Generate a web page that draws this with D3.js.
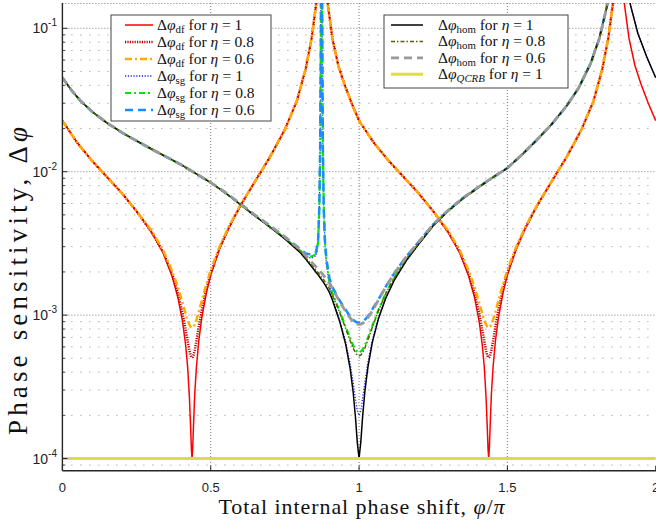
<!DOCTYPE html>
<html><head><meta charset="utf-8">
<script src="https://cdn.jsdelivr.net/npm/d3@7"></script>
<style>body{margin:0;background:#fff}svg{display:block}</style>
</head><body>
<svg id="chart" width="656" height="522"></svg>
<script>
// ---------------- DATA ----------------
const xTickValues = [0, 0.5, 1, 1.5, 2];
const xTickLabels = ["0", "0.5", "1", "1.5", "2"];
const yTickExponents = [-1, -2, -3, -4];

// phase grid for the difference-detection curves
const phiDf = [0,0.05,0.1,0.15,0.2,0.25,0.3,0.34,0.37,0.39,0.405,0.415,0.422,0.428,0.432,0.435,0.437,0.439,0.442,0.446,0.452,0.46,0.47,0.485,0.5,0.53,0.56,0.6,0.65,0.7,0.75,0.79,0.82,0.84,0.855,0.865,0.8745,0.884,0.895,0.91,0.93,0.95,0.975,
1,1.05,1.1,1.15,1.2,1.25,1.3,1.34,1.37,1.39,1.405,1.415,1.422,1.428,1.432,1.435,1.437,1.439,1.442,1.446,1.452,1.46,1.47,1.485,1.5,1.53,1.56,1.6,1.65,1.7,1.75,1.79,1.82,1.84,1.855,1.865,1.8745,1.884,1.895,1.91,1.93,1.95,1.975,2];

const dfEta1 = [0.0227,0.0159,0.0119,0.0092,0.0071,0.0053,0.0038,0.0027,0.00186,0.00131,0.0009,0.00063,0.00044,0.00027,0.00017,0.000115,0.0001,0.000115,0.00017,0.00028,0.00044,0.00067,0.00096,0.00142,0.0019,0.0029,0.004,0.0058,0.0086,0.0127,0.0197,0.031,0.052,0.085,0.145,0.3,null,0.3,0.145,0.085,0.055,0.041,0.030,
0.0227,0.0159,0.0119,0.0092,0.0071,0.0053,0.0038,0.0027,0.00186,0.00131,0.0009,0.00063,0.00044,0.00027,0.00017,0.000115,0.0001,0.000115,0.00017,0.00028,0.00044,0.00067,0.00096,0.00142,0.0019,0.0029,0.004,0.0058,0.0086,0.0127,0.0197,0.031,0.052,0.085,0.145,0.3,null,0.3,0.145,0.085,0.055,0.041,0.030,
0.0227];

const dfEta08 = [0.0227,0.0159,0.0119,0.0092,0.0071,0.0053,0.0038,0.00275,0.00193,0.0014,0.00103,0.0008,0.00066,0.000567,0.000526,0.000509,0.000506,0.000509,0.000526,0.000568,0.000665,0.00084,0.00109,0.00151,0.00196,0.00294,0.00404,0.0058,0.0086,0.0127,0.0197,0.031,0.052,0.085,0.145,0.3,null,0.3,0.145,0.085,0.055,0.041,0.030,
0.0227,0.0159,0.0119,0.0092,0.0071,0.0053,0.0038,0.00275,0.00193,0.0014,0.00103,0.0008,0.00066,0.000567,0.000526,0.000509,0.000506,0.000509,0.000526,0.000568,0.000665,0.00084,0.00109,0.00151,0.00196,0.00294,0.00404,0.0058,0.0086,0.0127,0.0197,0.031,0.052,0.085,0.145,0.3,null,null,null,null,null,null,null,
null];

const dfEta06 = [0.0227,0.0159,0.0119,0.0092,0.0071,0.0053,0.0039,0.00282,0.00203,0.00155,0.00122,0.00103,0.00092,0.00086,0.00083,0.00082,0.00082,0.00082,0.00083,0.00086,0.00093,0.00106,0.00126,0.00164,0.00206,0.00301,0.00409,0.00586,0.0086,0.0127,0.0197,0.031,0.052,0.085,0.145,0.3,null,0.3,0.145,0.085,0.055,0.041,0.030,
0.0227,0.0159,0.0119,0.0092,0.0071,0.0053,0.0039,0.00282,0.00203,0.00155,0.00122,0.00103,0.00092,0.00086,0.00083,0.00082,0.00082,0.00082,0.00083,0.00086,0.00093,0.00106,0.00126,0.00164,0.00206,0.00301,0.00409,0.00586,0.0086,0.0127,0.0197,0.031,0.052,0.085,0.145,0.3,null,null,null,null,null,null,null,
null];

// phase grid for single-mode and homodyne curves
const phiHom = [0,0.03,0.06,0.1,0.15,0.2,0.25,0.3,0.35,0.4,0.45,0.5,0.55,0.6,0.65,0.7,0.75,0.8,0.82,0.84,0.855,0.862,0.866,0.869,0.871,0.8718,0.8735,0.8752,0.876,0.878,0.881,0.885,0.89,0.9,0.91,0.935,0.955,0.97,0.98,0.988,0.994,1.0,1.006,1.012,1.02,1.03,1.045,1.065,1.09,1.12,1.16,1.2,1.25,1.3,1.35,1.4,1.45,1.5,1.55,1.6,1.65,1.7,1.74,1.78,1.81,1.835,1.855,1.865,1.875,1.886,1.896,1.915,1.94,1.97,2.0];

const sgEta1 = [0.0453,0.0371,0.0314,0.0262,0.0219,0.0188,0.0164,0.0144,0.0127,0.0112,0.0097,0.0084,0.0071,0.0059,0.0049,0.0041,0.0034,0.00278,0.00255,0.0025,0.0026,0.0032,0.0055,0.015,0.08,0.2,2,0.2,0.08,0.015,0.0055,0.0032,0.0023,0.0016,0.00132,0.000915,0.00065,0.000458,0.00034,0.000259,0.000216,0.0002,0.000217,0.000262,0.000346,0.000469,0.000671,0.000954,0.00132,0.00178,0.00241,0.0031,0.0042,0.0053,0.0065,0.0077,0.0091,0.0106,0.0132,0.0167,0.0215,0.0288,0.0383,0.0565,0.085,0.14,0.28,0.5,null,0.5,0.27,0.145,0.092,0.063,0.0453];

const sgEta08 = [0.0453,0.0371,0.0314,0.0262,0.0219,0.0188,0.0164,0.0144,0.0127,0.0112,0.0097,0.0084,0.0071,0.00592,0.00493,0.00413,0.00344,0.00283,0.00261,0.00256,0.00266,0.00325,0.00553,0.015,0.08,0.2,2,0.2,0.08,0.015,0.00553,0.00325,0.00236,0.00169,0.00143,0.00106,0.000828,0.000688,0.000615,0.000575,0.000557,0.00055,0.000557,0.000576,0.000618,0.000695,0.000844,0.00108,0.00142,0.00185,0.00248,0.00315,0.00424,0.00533,0.0065,0.0077,0.0091,0.0106,0.0132,0.0167,0.0215,0.0288,0.0383,0.0565,0.085,0.14,0.28,0.5,null,null,null,null,null,null,null];

const sgEta06 = [0.0453,0.0371,0.0314,0.0262,0.0219,0.0188,0.0164,0.0144,0.0127,0.0112,0.0097,0.0084,0.00715,0.00596,0.00497,0.00419,0.00351,0.00291,0.00269,0.00264,0.00274,0.00331,0.00557,0.015,0.08,0.2,2,0.2,0.08,0.015,0.00557,0.00331,0.00246,0.00182,0.00157,0.00126,0.00109,0.000975,0.000928,0.0009,0.000887,0.000883,0.000887,0.000901,0.00093,0.000981,0.0011,0.00128,0.00158,0.00198,0.00257,0.00322,0.00429,0.00537,0.00656,0.00775,0.0091,0.0106,0.0132,0.0167,0.0215,0.0288,0.0383,0.0565,0.085,0.14,0.28,0.5,null,null,null,null,null,null,null];

const homEta1 = [0.0453,0.0371,0.0314,0.0262,0.0219,0.0188,0.0164,0.0144,0.0127,0.0112,0.0097,0.0084,0.0071,0.0059,0.0049,0.0041,0.0034,0.00275,0.00246,0.00218,0.00199,0.00191,0.00186,0.00182,0.0018,0.00179,0.00177,0.00175,0.00174,0.00172,0.00168,0.00163,0.00157,0.00144,0.00128,0.0009,0.000626,0.000424,0.000293,0.000193,0.00013,0.0001,0.000131,0.000196,0.000299,0.000436,0.000648,0.000938,0.00131,0.00177,0.00241,0.0031,0.0042,0.0053,0.0065,0.0077,0.0091,0.0106,0.0132,0.0167,0.0215,0.0288,0.0383,0.0565,0.085,0.14,0.28,0.5,null,0.5,0.27,0.145,0.092,0.063,0.0453];

const homEta08 = [0.0453,0.0371,0.0314,0.0262,0.0219,0.0188,0.0164,0.0144,0.0127,0.0112,0.0097,0.0084,0.0071,0.00592,0.00493,0.00413,0.00344,0.0028,0.00251,0.00224,0.00206,0.00198,0.00193,0.00189,0.00187,0.00186,0.001845,0.001825,0.00182,0.0018,0.00176,0.00171,0.00165,0.00153,0.00138,0.00104,0.000807,0.000663,0.000588,0.000546,0.000526,0.00052,0.000527,0.000547,0.000592,0.000671,0.000825,0.00107,0.00141,0.00184,0.00247,0.00314,0.00423,0.00533,0.0065,0.0077,0.0091,0.0106,0.0132,0.0167,0.0215,0.0288,0.0383,0.0565,0.085,0.14,0.28,0.5,null,null,null,null,null,null,null];

const homEta06 = [0.0453,0.0371,0.0314,0.0262,0.0219,0.0188,0.0164,0.0144,0.0127,0.0112,0.0097,0.0084,0.00715,0.00596,0.00497,0.00419,0.00351,0.00288,0.00261,0.00234,0.00217,0.00209,0.00205,0.00201,0.001995,0.001986,0.001968,0.00195,0.00194,0.00192,0.00189,0.00184,0.00179,0.00168,0.00154,0.00124,0.00106,0.000954,0.000903,0.000876,0.000864,0.00086,0.000864,0.000876,0.000905,0.000959,0.00107,0.00127,0.00157,0.00197,0.00256,0.00322,0.00429,0.00537,0.00656,0.00775,0.0091,0.0106,0.0132,0.0167,0.0215,0.0288,0.0383,0.0565,0.085,0.14,0.28,0.5,null,null,null,null,null,null,null];

const phiQcrb = [0, 2];
const qcrbEta1 = [0.0001, 0.0001];

const legend1Sub = ["df", "df", "df", "sg", "sg", "sg"];
const legend1Eta = ["1", "0.8", "0.6", "1", "0.8", "0.6"];
const legend2Sub = ["hom", "hom", "hom", "QCRB"];
const legend2Eta = ["1", "0.8", "0.6", "1"];

// ---------------- LAYOUT / STYLE ----------------
const plotLeft = 62.4, plotRight = 656, plotTop = 3, plotBottom = 470.7;
const x = d3.scaleLinear().domain([0, 2]).range([62.4, 655.7]);
const y = d3.scaleLog().domain([1e-4, 1e-1]).range([458.5, 28.3]);

const styles = {
  df1:  {color: "#ff0000", width: 1.5, dash: null},
  df08: {color: "#c40000", width: 2.5, dash: "1.2,1.2"},
  df06: {color: "#ffaa00", width: 2.5, dash: "7,3,2,3"},
  sg1:  {color: "#2222ff", width: 1.3, dash: "1.2,1.6"},
  sg08: {color: "#00e600", width: 2.2, dash: "6,3,2,3"},
  sg06: {color: "#1a8cff", width: 2.5, dash: "8,5"},
  hom1: {color: "#000000", width: 1.5, dash: null},
  hom08:{color: "#5e5e00", width: 1.5, dash: "4,2,1.5,2"},
  hom06:{color: "#999999", width: 2.8, dash: "8,5"},
  qcrb: {color: "#dcdc45", width: 3, dash: null}
};

const series = [
  {key: "df1", xs: phiDf, ys: dfEta1},
  {key: "df08", xs: phiDf, ys: dfEta08},
  {key: "df06", xs: phiDf, ys: dfEta06},
  {key: "sg1", xs: phiHom, ys: sgEta1},
  {key: "sg08", xs: phiHom, ys: sgEta08},
  {key: "sg06", xs: phiHom, ys: sgEta06},
  {key: "hom1", xs: phiHom, ys: homEta1},
  {key: "hom08", xs: phiHom, ys: homEta08},
  {key: "hom06", xs: phiHom, ys: homEta06},
  {key: "qcrb", xs: phiQcrb, ys: qcrbEta1}
];

const svg = d3.select("#chart");
svg.append("rect").attr("width", 656).attr("height", 522).attr("fill", "#fff");

svg.append("defs").append("clipPath").attr("id", "clip")
  .append("rect").attr("x", plotLeft).attr("y", plotTop)
  .attr("width", plotRight - plotLeft).attr("height", plotBottom - plotTop);

// grid
const grid = svg.append("g");
const minorVals = [];
for (let e = -5; e <= -1; e++) for (let k = 2; k <= 9; k++) {
  const v = k * Math.pow(10, e);
  const py = y(v);
  if (py > plotTop + 1 && py < plotBottom - 1) minorVals.push(v);
}
grid.selectAll("line.minor").data(minorVals).join("line")
  .attr("x1", plotLeft).attr("x2", plotRight)
  .attr("y1", d => y(d)).attr("y2", d => y(d))
  .attr("stroke", "#8a8a8a").attr("stroke-width", 1).attr("stroke-dasharray", "1,8");
grid.selectAll("line.majy").data(yTickExponents.map(e => Math.pow(10, e))).join("line")
  .attr("x1", plotLeft).attr("x2", plotRight)
  .attr("y1", d => y(d)).attr("y2", d => y(d))
  .attr("stroke", "#7a7a7a").attr("stroke-width", 1).attr("stroke-dasharray", "1,2");
grid.selectAll("line.majx").data(xTickValues.filter(v => v > 0 && v < 2)).join("line")
  .attr("x1", d => x(d)).attr("x2", d => x(d))
  .attr("y1", plotTop).attr("y2", plotBottom)
  .attr("stroke", "#7a7a7a").attr("stroke-width", 1).attr("stroke-dasharray", "1,2");
grid.append("line").attr("x1", plotLeft).attr("x2", plotRight)
  .attr("y1", plotTop + 0.5).attr("y2", plotTop + 0.5)
  .attr("stroke", "#7a7a7a").attr("stroke-width", 1).attr("stroke-dasharray", "1,2");

// curves
const line = d3.line()
  .defined(d => d[1] !== null && d[1] !== undefined)
  .x(d => x(d[0])).y(d => y(d[1]));
const curves = svg.append("g").attr("clip-path", "url(#clip)");
series.forEach(s => {
  const st = styles[s.key];
  const pts = s.xs.map((xv, i) => [xv, s.ys[i]]);
  curves.append("path").datum(pts)
    .attr("d", line).attr("fill", "none")
    .attr("stroke", st.color).attr("stroke-width", st.width)
    .attr("stroke-dasharray", st.dash)
    .attr("stroke-linejoin", "round");
});

// axes
const axc = "#262626";
svg.append("line").attr("x1", plotLeft).attr("x2", plotLeft).attr("y1", plotTop).attr("y2", plotBottom)
  .attr("stroke", axc).attr("stroke-width", 1.4);
svg.append("line").attr("x1", plotLeft).attr("x2", plotRight).attr("y1", plotBottom).attr("y2", plotBottom)
  .attr("stroke", axc).attr("stroke-width", 1.4);
svg.selectAll("line.yt").data(yTickExponents).join("line")
  .attr("x1", plotLeft).attr("x2", plotLeft + 5)
  .attr("y1", d => y(Math.pow(10, d))).attr("y2", d => y(Math.pow(10, d)))
  .attr("stroke", axc).attr("stroke-width", 1);
svg.selectAll("line.ymt").data(minorVals).join("line")
  .attr("x1", plotLeft).attr("x2", plotLeft + 3)
  .attr("y1", d => y(d)).attr("y2", d => y(d))
  .attr("stroke", axc).attr("stroke-width", 0.8);
svg.selectAll("line.xt").data(xTickValues).join("line")
  .attr("x1", d => x(d)).attr("x2", d => x(d))
  .attr("y1", plotBottom).attr("y2", plotBottom - 5)
  .attr("stroke", axc).attr("stroke-width", 1);

// tick labels
const sans = "'Liberation Sans', Arial, Helvetica, sans-serif";
svg.selectAll("text.xl").data(xTickValues).join("text")
  .attr("x", d => x(d)).attr("y", 492).attr("text-anchor", "middle")
  .attr("font-family", sans).attr("font-size", 13).attr("fill", "#222")
  .text((d, i) => xTickLabels[i]);
yTickExponents.forEach(e => {
  const t = svg.append("text").attr("x", 57).attr("y", y(Math.pow(10, e)) + 5)
    .attr("text-anchor", "end").attr("font-family", sans).attr("fill", "#222");
  t.append("tspan").attr("font-size", 14).text("10");
  t.append("tspan").attr("font-size", 10).attr("dy", -7).text("-" + Math.abs(e));
});

// axis labels
const serif = "'Liberation Serif', 'Times New Roman', serif";
function stretch(sel, target) {
  const L = sel.node().getComputedTextLength();
  const n = sel.text().length;
  if (L < target) sel.attr("letter-spacing", (target - L) / n);
}
const xl = svg.append("text").attr("x", 362).attr("y", 514).attr("text-anchor", "middle")
  .attr("font-family", serif).attr("font-size", 22).attr("fill", "#111");
xl.append("tspan").text("Total internal phase shift, ");
xl.append("tspan").attr("font-style", "italic").text("φ");
xl.append("tspan").text("/");
xl.append("tspan").attr("font-style", "italic").text("π");
stretch(xl, 287);

const yl = svg.append("text").attr("transform", "translate(27,279) rotate(-90)")
  .attr("text-anchor", "middle").attr("font-family", serif).attr("font-size", 27).attr("fill", "#111");
yl.append("tspan").text("Phase sensitivity, Δ");
yl.append("tspan").attr("font-style", "italic").text("φ");
stretch(yl, 312);

// legends
function legendLabel(g, tx, ty, sub, eta, fsz, italicSub) {
  const t = g.append("text").attr("x", tx).attr("y", ty)
    .attr("font-family", serif).attr("font-size", fsz).attr("fill", "#111");
  t.append("tspan").text("Δ");
  t.append("tspan").attr("font-style", "italic").text("φ");
  t.append("tspan").attr("font-size", fsz * 0.7).attr("dy", 3)
    .attr("font-style", italicSub ? "italic" : "normal").text(sub);
  t.append("tspan").attr("dy", -3).text(" for ");
  t.append("tspan").attr("font-style", "italic").text("η");
  t.append("tspan").text(" = " + eta);
  return t;
}
function drawSample(g, x1, x2, yy, st) {
  g.append("line").attr("x1", x1).attr("x2", x2).attr("y1", yy).attr("y2", yy)
    .attr("stroke", st.color).attr("stroke-width", st.width).attr("stroke-dasharray", st.dash);
}
const lg1 = svg.append("g");
lg1.append("rect").attr("x", 111).attr("y", 15).attr("width", 160).attr("height", 106)
  .attr("fill", "#fff").attr("stroke", "#444").attr("stroke-width", 1);
const l1keys = ["df1", "df08", "df06", "sg1", "sg08", "sg06"];
legend1Sub.forEach((sub, i) => {
  const yy = 25 + i * 17;
  drawSample(lg1, 125, 153, yy, styles[l1keys[i]]);
  legendLabel(lg1, 157, yy + 5, sub, legend1Eta[i], 15.5, false);
});
const lg2 = svg.append("g");
lg2.append("rect").attr("x", 384).attr("y", 15).attr("width", 184).attr("height", 73)
  .attr("fill", "#fff").attr("stroke", "#444").attr("stroke-width", 1);
const l2keys = ["hom1", "hom08", "hom06", "qcrb"];
legend2Sub.forEach((sub, i) => {
  const yy = 25 + i * 16.4;
  drawSample(lg2, 391, 423, yy, styles[l2keys[i]]);
  legendLabel(lg2, 438, yy + 5, sub, legend2Eta[i], 15.5, sub === "QCRB");
});
</script>
</body></html>
